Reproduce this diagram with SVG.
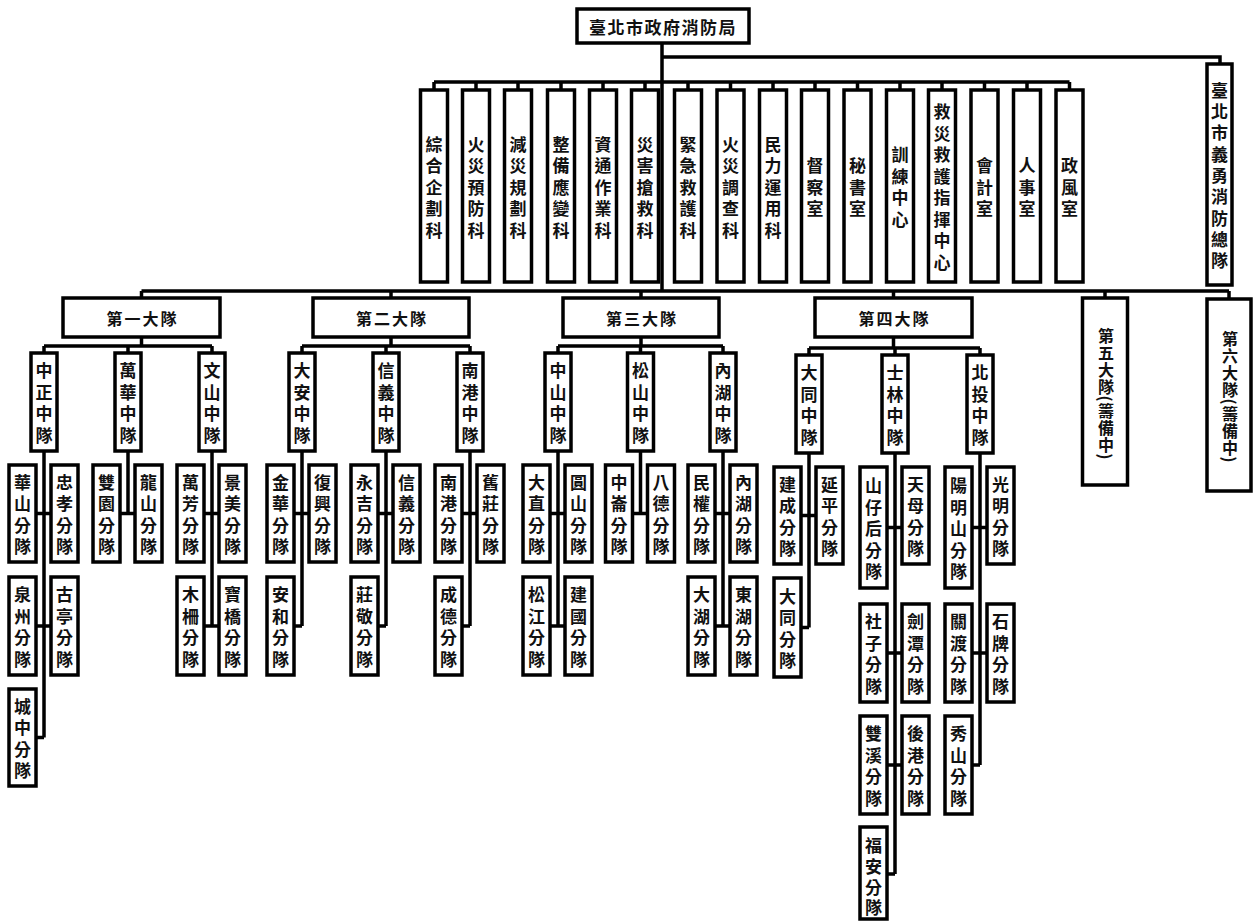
<svg xmlns="http://www.w3.org/2000/svg" width="1253" height="921" viewBox="0 0 1253 921">
<style>
.b{fill:#fff;stroke:#000;stroke-width:3.5}
.l{stroke:#000;stroke-width:3.5;fill:none}
.t{font-family:"Noto Sans CJK TC","Noto Sans CJK SC",sans-serif;font-weight:700;font-size:17px;fill:#111;text-anchor:middle;dominant-baseline:central}
.h{letter-spacing:2px;font-size:16px}
.v{writing-mode:vertical-rl;letter-spacing:1px;font-size:16px}
</style>
<rect width="1253" height="921" fill="#fff"/>
<g id="connectors" class="l">
<path d="M662 43V291M662 57H1220V64M434 82H1069.5"/>
<path d="M434 82V90M476 82V90M518 82V90M561 82V90M603 82V90M645 82V90M688 82V90M730.5 82V90M773 82V90M815 82V90M857.5 82V90M900 82V90M942 82V90M984.5 82V90M1027 82V90M1069.5 82V90"/>
<path d="M141.5 291H1229M141.5 291V298M391 291V298M641 291V298M893.5 291V298M1105 291V298M1229 291V298"/>
<path d="M141.5 337V346M44 346H212M44 346V353M128 346V353M212 346V353"/>
<path d="M391 337V346M302 346H470M302 346V353M386 346V353M470 346V353"/>
<path d="M641 337V346M558 346H723M558 346V353M640.5 346V353M723 346V353"/>
<path d="M893.5 337V348M809 348H980M809 348V355M895 348V355M980 348V355"/>
<path d="M44 451V737.5M36 513.5H51M36 626H51M36 737.5H44"/>
<path d="M128 451V513.5M120 513.5H135"/>
<path d="M212 451V626M204 513.5H219M204 626H219"/>
<path d="M302 451V626M294 513.5H309M294 626H302"/>
<path d="M386 451V626M378 513.5H393M378 626H386"/>
<path d="M470 451V626M462 513.5H477M462 626H470"/>
<path d="M558 451V626M550 513.5H565M550 626H565"/>
<path d="M640.5 451V513.5M632.5 513.5H647.5"/>
<path d="M723 451V626M715 513.5H730M715 626H730"/>
<path d="M809 453V627.5M801 515.5H816M801 627.5H809"/>
<path d="M895 453V874M887 527.5H902M887 653H902M887 765H902M887 874H895"/>
<path d="M980 453V765M972 527.5H987M972 653H987M972 765H980"/>
</g>
<g id="root"><rect class="b" x="577" y="9" width="172" height="34"/><text class="t" x="663" y="26" style="letter-spacing:1.5px">臺北市政府消防局</text></g>
<g id="d1"><rect class="b" x="420.5" y="90" width="27" height="192"/><text class="t" x="434 434 434 434 434" y="143 164.5 186 207.5 229">綜合企劃科</text></g>
<g id="d2"><rect class="b" x="462.5" y="90" width="27" height="192"/><text class="t" x="476 476 476 476 476" y="143 164.5 186 207.5 229">火災預防科</text></g>
<g id="d3"><rect class="b" x="504.5" y="90" width="27" height="192"/><text class="t" x="518 518 518 518 518" y="143 164.5 186 207.5 229">減災規劃科</text></g>
<g id="d4"><rect class="b" x="547.5" y="90" width="27" height="192"/><text class="t" x="561 561 561 561 561" y="143 164.5 186 207.5 229">整備應變科</text></g>
<g id="d5"><rect class="b" x="589.5" y="90" width="27" height="192"/><text class="t" x="603 603 603 603 603" y="143 164.5 186 207.5 229">資通作業科</text></g>
<g id="d6"><rect class="b" x="631.5" y="90" width="27" height="192"/><text class="t" x="645 645 645 645 645" y="143 164.5 186 207.5 229">災害搶救科</text></g>
<g id="d7"><rect class="b" x="674.5" y="90" width="27" height="192"/><text class="t" x="688 688 688 688 688" y="143 164.5 186 207.5 229">緊急救護科</text></g>
<g id="d8"><rect class="b" x="717" y="90" width="27" height="192"/><text class="t" x="730.5 730.5 730.5 730.5 730.5" y="143 164.5 186 207.5 229">火災調查科</text></g>
<g id="d9"><rect class="b" x="759.5" y="90" width="27" height="192"/><text class="t" x="773 773 773 773 773" y="143 164.5 186 207.5 229">民力運用科</text></g>
<g id="d10"><rect class="b" x="801.5" y="90" width="27" height="192"/><text class="t" x="815 815 815" y="164.5 186 207.5">督察室</text></g>
<g id="d11"><rect class="b" x="844" y="90" width="27" height="192"/><text class="t" x="857.5 857.5 857.5" y="164.5 186 207.5">秘書室</text></g>
<g id="d12"><rect class="b" x="886.5" y="90" width="27" height="192"/><text class="t" x="900 900 900 900" y="153.75 175.25 196.75 218.25">訓練中心</text></g>
<g id="d13"><rect class="b" x="928.5" y="90" width="27" height="192"/><text class="t" x="942 942 942 942 942 942 942 942" y="110.75 132.25 153.75 175.25 196.75 218.25 239.75 261.25">救災救護指揮中心</text></g>
<g id="d14"><rect class="b" x="971" y="90" width="27" height="192"/><text class="t" x="984.5 984.5 984.5" y="164.5 186 207.5">會計室</text></g>
<g id="d15"><rect class="b" x="1013.5" y="90" width="27" height="192"/><text class="t" x="1027 1027 1027" y="164.5 186 207.5">人事室</text></g>
<g id="d16"><rect class="b" x="1056" y="90" width="27" height="192"/><text class="t" x="1069.5 1069.5 1069.5" y="164.5 186 207.5">政風室</text></g>
<g id="volunteer"><rect class="b" x="1207" y="64" width="25" height="221"/><text class="t" x="1219.5 1219.5 1219.5 1219.5 1219.5 1219.5 1219.5 1219.5 1219.5" y="89.3 110.6 131.9 153.2 174.5 195.8 217.1 238.4 259.7">臺北市義勇消防總隊</text></g>
<g id="b1"><rect class="b" x="63" y="298" width="157" height="39"/><text class="t h" x="142.5" y="317.5">第一大隊</text></g>
<g id="b2"><rect class="b" x="313" y="298" width="156" height="39"/><text class="t h" x="392" y="317.5">第二大隊</text></g>
<g id="b3"><rect class="b" x="563" y="298" width="156" height="39"/><text class="t h" x="642" y="317.5">第三大隊</text></g>
<g id="b4"><rect class="b" x="815" y="298" width="157" height="39"/><text class="t h" x="894.5" y="317.5">第四大隊</text></g>
<g id="b5"><rect class="b" x="1082.5" y="298" width="45" height="187"/><text class="t v" x="1106" y="394">第五大隊(籌備中)</text></g>
<g id="b6"><rect class="b" x="1207" y="299" width="44" height="192"/><text class="t v" x="1230" y="397">第六大隊(籌備中)</text></g>
<g id="c11"><rect class="b" x="31" y="353" width="26" height="98"/><text class="t" x="44 44 44 44" y="369.75 391.25 412.75 434.25">中正中隊</text></g>
<g id="c12"><rect class="b" x="115" y="353" width="26" height="98"/><text class="t" x="128 128 128 128" y="369.75 391.25 412.75 434.25">萬華中隊</text></g>
<g id="c13"><rect class="b" x="199" y="353" width="26" height="98"/><text class="t" x="212 212 212 212" y="369.75 391.25 412.75 434.25">文山中隊</text></g>
<g id="c21"><rect class="b" x="289" y="353" width="26" height="98"/><text class="t" x="302 302 302 302" y="369.75 391.25 412.75 434.25">大安中隊</text></g>
<g id="c22"><rect class="b" x="373" y="353" width="26" height="98"/><text class="t" x="386 386 386 386" y="369.75 391.25 412.75 434.25">信義中隊</text></g>
<g id="c23"><rect class="b" x="457" y="353" width="26" height="98"/><text class="t" x="470 470 470 470" y="369.75 391.25 412.75 434.25">南港中隊</text></g>
<g id="c31"><rect class="b" x="545" y="353" width="26" height="98"/><text class="t" x="558 558 558 558" y="369.75 391.25 412.75 434.25">中山中隊</text></g>
<g id="c32"><rect class="b" x="627.5" y="353" width="26" height="98"/><text class="t" x="640.5 640.5 640.5 640.5" y="369.75 391.25 412.75 434.25">松山中隊</text></g>
<g id="c33"><rect class="b" x="710" y="353" width="26" height="98"/><text class="t" x="723 723 723 723" y="369.75 391.25 412.75 434.25">內湖中隊</text></g>
<g id="c41"><rect class="b" x="796" y="355" width="26" height="98"/><text class="t" x="809 809 809 809" y="371.75 393.25 414.75 436.25">大同中隊</text></g>
<g id="c42"><rect class="b" x="882" y="355" width="26" height="98"/><text class="t" x="895 895 895 895" y="371.75 393.25 414.75 436.25">士林中隊</text></g>
<g id="c43"><rect class="b" x="967" y="355" width="26" height="98"/><text class="t" x="980 980 980 980" y="371.75 393.25 414.75 436.25">北投中隊</text></g>
<g id="s_huashan"><rect class="b" x="9" y="465" width="27" height="97"/><text class="t" x="22.5 22.5 22.5 22.5" y="481.25 502.75 524.25 545.75">華山分隊</text></g>
<g id="s_zhongxiao"><rect class="b" x="51" y="465" width="27" height="97"/><text class="t" x="64.5 64.5 64.5 64.5" y="481.25 502.75 524.25 545.75">忠孝分隊</text></g>
<g id="s_quanzhou"><rect class="b" x="9" y="577" width="27" height="98"/><text class="t" x="22.5 22.5 22.5 22.5" y="593.75 615.25 636.75 658.25">泉州分隊</text></g>
<g id="s_guting"><rect class="b" x="51" y="577" width="27" height="98"/><text class="t" x="64.5 64.5 64.5 64.5" y="593.75 615.25 636.75 658.25">古亭分隊</text></g>
<g id="s_chengzhong"><rect class="b" x="9" y="689" width="27" height="97"/><text class="t" x="22.5 22.5 22.5 22.5" y="705.25 726.75 748.25 769.75">城中分隊</text></g>
<g id="s_shuangyuan"><rect class="b" x="93" y="465" width="27" height="97"/><text class="t" x="106.5 106.5 106.5 106.5" y="481.25 502.75 524.25 545.75">雙園分隊</text></g>
<g id="s_longshan"><rect class="b" x="135" y="465" width="27" height="97"/><text class="t" x="148.5 148.5 148.5 148.5" y="481.25 502.75 524.25 545.75">龍山分隊</text></g>
<g id="s_wanfang"><rect class="b" x="177" y="465" width="27" height="97"/><text class="t" x="190.5 190.5 190.5 190.5" y="481.25 502.75 524.25 545.75">萬芳分隊</text></g>
<g id="s_jingmei"><rect class="b" x="219" y="465" width="27" height="97"/><text class="t" x="232.5 232.5 232.5 232.5" y="481.25 502.75 524.25 545.75">景美分隊</text></g>
<g id="s_muzha"><rect class="b" x="177" y="577" width="27" height="98"/><text class="t" x="190.5 190.5 190.5 190.5" y="593.75 615.25 636.75 658.25">木柵分隊</text></g>
<g id="s_baoqiao"><rect class="b" x="219" y="577" width="27" height="98"/><text class="t" x="232.5 232.5 232.5 232.5" y="593.75 615.25 636.75 658.25">寶橋分隊</text></g>
<g id="s_jinhua"><rect class="b" x="267" y="465" width="27" height="97"/><text class="t" x="280.5 280.5 280.5 280.5" y="481.25 502.75 524.25 545.75">金華分隊</text></g>
<g id="s_fuxing"><rect class="b" x="309" y="465" width="27" height="97"/><text class="t" x="322.5 322.5 322.5 322.5" y="481.25 502.75 524.25 545.75">復興分隊</text></g>
<g id="s_anhe"><rect class="b" x="267" y="577" width="27" height="98"/><text class="t" x="280.5 280.5 280.5 280.5" y="593.75 615.25 636.75 658.25">安和分隊</text></g>
<g id="s_yongji"><rect class="b" x="351" y="465" width="27" height="97"/><text class="t" x="364.5 364.5 364.5 364.5" y="481.25 502.75 524.25 545.75">永吉分隊</text></g>
<g id="s_xinyi"><rect class="b" x="393" y="465" width="27" height="97"/><text class="t" x="406.5 406.5 406.5 406.5" y="481.25 502.75 524.25 545.75">信義分隊</text></g>
<g id="s_zhuangjing"><rect class="b" x="351" y="577" width="27" height="98"/><text class="t" x="364.5 364.5 364.5 364.5" y="593.75 615.25 636.75 658.25">莊敬分隊</text></g>
<g id="s_nangang"><rect class="b" x="435" y="465" width="27" height="97"/><text class="t" x="448.5 448.5 448.5 448.5" y="481.25 502.75 524.25 545.75">南港分隊</text></g>
<g id="s_jiuzhuang"><rect class="b" x="477" y="465" width="27" height="97"/><text class="t" x="490.5 490.5 490.5 490.5" y="481.25 502.75 524.25 545.75">舊莊分隊</text></g>
<g id="s_chengde"><rect class="b" x="435" y="577" width="27" height="98"/><text class="t" x="448.5 448.5 448.5 448.5" y="593.75 615.25 636.75 658.25">成德分隊</text></g>
<g id="s_dazhi"><rect class="b" x="523" y="465" width="27" height="97"/><text class="t" x="536.5 536.5 536.5 536.5" y="481.25 502.75 524.25 545.75">大直分隊</text></g>
<g id="s_yuanshan"><rect class="b" x="565" y="465" width="27" height="97"/><text class="t" x="578.5 578.5 578.5 578.5" y="481.25 502.75 524.25 545.75">圓山分隊</text></g>
<g id="s_songjiang"><rect class="b" x="523" y="577" width="27" height="98"/><text class="t" x="536.5 536.5 536.5 536.5" y="593.75 615.25 636.75 658.25">松江分隊</text></g>
<g id="s_jianguo"><rect class="b" x="565" y="577" width="27" height="98"/><text class="t" x="578.5 578.5 578.5 578.5" y="593.75 615.25 636.75 658.25">建國分隊</text></g>
<g id="s_zhonglun"><rect class="b" x="605.5" y="465" width="27" height="97"/><text class="t" x="619 619 619 619" y="481.25 502.75 524.25 545.75">中崙分隊</text></g>
<g id="s_bade"><rect class="b" x="647.5" y="465" width="27" height="97"/><text class="t" x="661 661 661 661" y="481.25 502.75 524.25 545.75">八德分隊</text></g>
<g id="s_minquan"><rect class="b" x="688" y="465" width="27" height="97"/><text class="t" x="701.5 701.5 701.5 701.5" y="481.25 502.75 524.25 545.75">民權分隊</text></g>
<g id="s_neihu"><rect class="b" x="730" y="465" width="27" height="97"/><text class="t" x="743.5 743.5 743.5 743.5" y="481.25 502.75 524.25 545.75">內湖分隊</text></g>
<g id="s_dahu"><rect class="b" x="688" y="577" width="27" height="98"/><text class="t" x="701.5 701.5 701.5 701.5" y="593.75 615.25 636.75 658.25">大湖分隊</text></g>
<g id="s_donghu"><rect class="b" x="730" y="577" width="27" height="98"/><text class="t" x="743.5 743.5 743.5 743.5" y="593.75 615.25 636.75 658.25">東湖分隊</text></g>
<g id="s_jiancheng"><rect class="b" x="774" y="467" width="27" height="97"/><text class="t" x="787.5 787.5 787.5 787.5" y="483.25 504.75 526.25 547.75">建成分隊</text></g>
<g id="s_yanping"><rect class="b" x="816" y="467" width="27" height="97"/><text class="t" x="829.5 829.5 829.5 829.5" y="483.25 504.75 526.25 547.75">延平分隊</text></g>
<g id="s_datong"><rect class="b" x="774" y="578" width="27" height="99"/><text class="t" x="787.5 787.5 787.5 787.5" y="595.25 616.75 638.25 659.75">大同分隊</text></g>
<g id="s_shanzaihou"><rect class="b" x="860" y="467" width="27" height="121"/><text class="t" x="873.5 873.5 873.5 873.5 873.5" y="484.5 506 527.5 549 570.5">山仔后分隊</text></g>
<g id="s_tianmu"><rect class="b" x="902" y="467" width="27" height="97"/><text class="t" x="915.5 915.5 915.5 915.5" y="483.25 504.75 526.25 547.75">天母分隊</text></g>
<g id="s_shezi"><rect class="b" x="860" y="604" width="27" height="98"/><text class="t" x="873.5 873.5 873.5 873.5" y="620.75 642.25 663.75 685.25">社子分隊</text></g>
<g id="s_jiantan"><rect class="b" x="902" y="604" width="27" height="98"/><text class="t" x="915.5 915.5 915.5 915.5" y="620.75 642.25 663.75 685.25">劍潭分隊</text></g>
<g id="s_shuangxi"><rect class="b" x="860" y="716" width="27" height="98"/><text class="t" x="873.5 873.5 873.5 873.5" y="732.75 754.25 775.75 797.25">雙溪分隊</text></g>
<g id="s_hougang"><rect class="b" x="902" y="716" width="27" height="98"/><text class="t" x="915.5 915.5 915.5 915.5" y="732.75 754.25 775.75 797.25">後港分隊</text></g>
<g id="s_fuan"><rect class="b" x="860" y="827" width="27" height="92"/><text class="t" x="873.5 873.5 873.5 873.5" y="844 865 886 906">福安分隊</text></g>
<g id="s_yangmingshan"><rect class="b" x="945" y="467" width="27" height="121"/><text class="t" x="958.5 958.5 958.5 958.5 958.5" y="484.5 506 527.5 549 570.5">陽明山分隊</text></g>
<g id="s_guangming"><rect class="b" x="987" y="467" width="27" height="97"/><text class="t" x="1000.5 1000.5 1000.5 1000.5" y="483.25 504.75 526.25 547.75">光明分隊</text></g>
<g id="s_guandu"><rect class="b" x="945" y="604" width="27" height="98"/><text class="t" x="958.5 958.5 958.5 958.5" y="620.75 642.25 663.75 685.25">關渡分隊</text></g>
<g id="s_shipai"><rect class="b" x="987" y="604" width="27" height="98"/><text class="t" x="1000.5 1000.5 1000.5 1000.5" y="620.75 642.25 663.75 685.25">石牌分隊</text></g>
<g id="s_xiushan"><rect class="b" x="945" y="716" width="27" height="98"/><text class="t" x="958.5 958.5 958.5 958.5" y="732.75 754.25 775.75 797.25">秀山分隊</text></g>
</svg>
